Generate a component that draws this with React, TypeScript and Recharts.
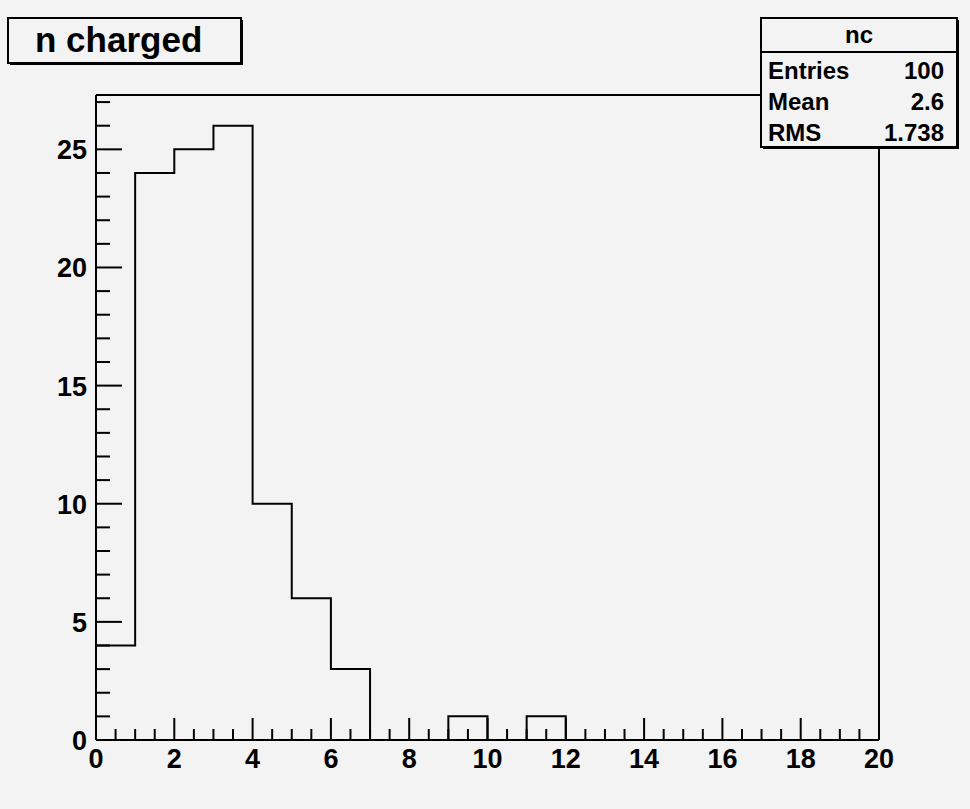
import React from 'react';
import { LineChart, Line, XAxis, YAxis, ReferenceLine } from 'recharts';

// histogram "nc": 20 bins of width 1 between 0 and 20
const binEdges = [0, 1, 2, 3, 4, 5, 6, 7, 8, 9, 10, 11, 12, 13, 14, 15, 16, 17, 18, 19, 20];
const binCounts = [4, 24, 25, 26, 10, 6, 3, 0, 0, 1, 0, 1, 0, 0, 0, 0, 0, 0, 0, 0];

const xLabels = [0, 2, 4, 6, 8, 10, 12, 14, 16, 18, 20];
const yLabels = [0, 5, 10, 15, 20, 25];
const xTicks = [
  0, 0.5, 1, 1.5, 2, 2.5, 3, 3.5, 4, 4.5, 5, 5.5, 6, 6.5, 7, 7.5, 8, 8.5, 9, 9.5, 10,
  10.5, 11, 11.5, 12, 12.5, 13, 13.5, 14, 14.5, 15, 15.5, 16, 16.5, 17, 17.5, 18, 18.5, 19, 19.5, 20,
];
const yTicks = [0, 1, 2, 3, 4, 5, 6, 7, 8, 9, 10, 11, 12, 13, 14, 15, 16, 17, 18, 19, 20, 21, 22, 23, 24, 25, 26, 27];
const yMax = 27.3;

const histTitle = 'n charged';
const statsName = 'nc';
const statsLabels = ['Entries', 'Mean', 'RMS'];
const statsValues = ['100', '2.6', '1.738'];

const BG = '#f3f3f3';
const FONT = '"Liberation Sans", Arial, Helvetica, sans-serif';

const data = binEdges.map((x, i) => ({ x, n: binCounts[Math.min(i, binCounts.length - 1)] }));

const XTick = (props: any) => {
  const { x, y, payload } = props;
  const v = payload.value;
  const major = xLabels.includes(v);
  return (
    <g>
      <line x1={x} y1={y} x2={x} y2={y - (major ? 22 : 11)} stroke="#000" strokeWidth={2} />
      {major && (
        <text x={x} y={y + 28} textAnchor="middle" fontSize={27} fontWeight="bold" fontFamily={FONT} fill="#000">
          {v}
        </text>
      )}
    </g>
  );
};

const YTick = (props: any) => {
  const { x, y, payload } = props;
  const v = payload.value;
  const major = yLabels.includes(v);
  return (
    <g>
      <line x1={x} y1={y} x2={x + (major ? 26 : 14)} y2={y} stroke="#000" strokeWidth={2} />
      {major && (
        <text x={x - 9} y={y + 10} textAnchor="end" fontSize={27} fontWeight="bold" fontFamily={FONT} fill="#000">
          {v}
        </text>
      )}
    </g>
  );
};

const Overlay = () => (
  <svg width={970} height={809} style={{ position: 'absolute', left: 0, top: 0, pointerEvents: 'none' }}>
    {/* title box */}
    <rect x={8} y={18} width={233} height={45} fill={BG} stroke="#000" strokeWidth={2} />
    <line x1={10} y1={64} x2={243} y2={64} stroke="#000" strokeWidth={2} />
    <line x1={242} y1={20} x2={242} y2={65} stroke="#000" strokeWidth={2} />
    <text x={35} y={52} fontSize={35} fontWeight="bold" fontFamily={FONT} fill="#000">
      {histTitle}
    </text>

    {/* stats box */}
    <rect x={761} y={18} width={196} height={129} fill={BG} stroke="#000" strokeWidth={2} />
    <line x1={763} y1={148} x2={959} y2={148} stroke="#000" strokeWidth={2} />
    <line x1={958} y1={20} x2={958} y2={149} stroke="#000" strokeWidth={2} />
    <line x1={761} y1={52} x2={957} y2={52} stroke="#000" strokeWidth={2} />
    <text x={859} y={43} textAnchor="middle" fontSize={24} fontWeight="bold" fontFamily={FONT} fill="#000">
      {statsName}
    </text>
    {statsLabels.map((label, i) => (
      <g key={label}>
        <text x={768} y={79 + i * 31} fontSize={24} fontWeight="bold" fontFamily={FONT} fill="#000">
          {label}
        </text>
        <text x={944} y={79 + i * 31} textAnchor="end" fontSize={24} fontWeight="bold" fontFamily={FONT} fill="#000">
          {statsValues[i]}
        </text>
      </g>
    ))}
  </svg>
);

export default function App() {
  return (
    <div style={{ position: 'absolute', left: 0, top: 0, width: 970, height: 809, background: BG }}>
      <LineChart width={970} height={809} data={data} margin={{ top: 95, right: 91, bottom: 39, left: 56 }}>
        <XAxis
          dataKey="x"
          type="number"
          domain={[0, 20]}
          ticks={xTicks}
          interval={0}
          tick={<XTick />}
          tickSize={0}
          tickMargin={0}
          tickLine={false}
          height={30}
          axisLine={{ stroke: '#000', strokeWidth: 2 }}
        />
        <YAxis
          type="number"
          domain={[0, yMax]}
          ticks={yTicks}
          interval={0}
          tick={<YTick />}
          tickSize={0}
          tickMargin={0}
          tickLine={false}
          width={40}
          axisLine={{ stroke: '#000', strokeWidth: 2 }}
        />
        <ReferenceLine x={20} stroke="#000" strokeWidth={2} />
        <ReferenceLine y={yMax} stroke="#000" strokeWidth={2} />
        <Line
          dataKey="n"
          type="stepAfter"
          stroke="#000"
          strokeWidth={2}
          dot={false}
          activeDot={false}
          isAnimationActive={false}
        />
      </LineChart>
      <Overlay />
    </div>
  );
}
